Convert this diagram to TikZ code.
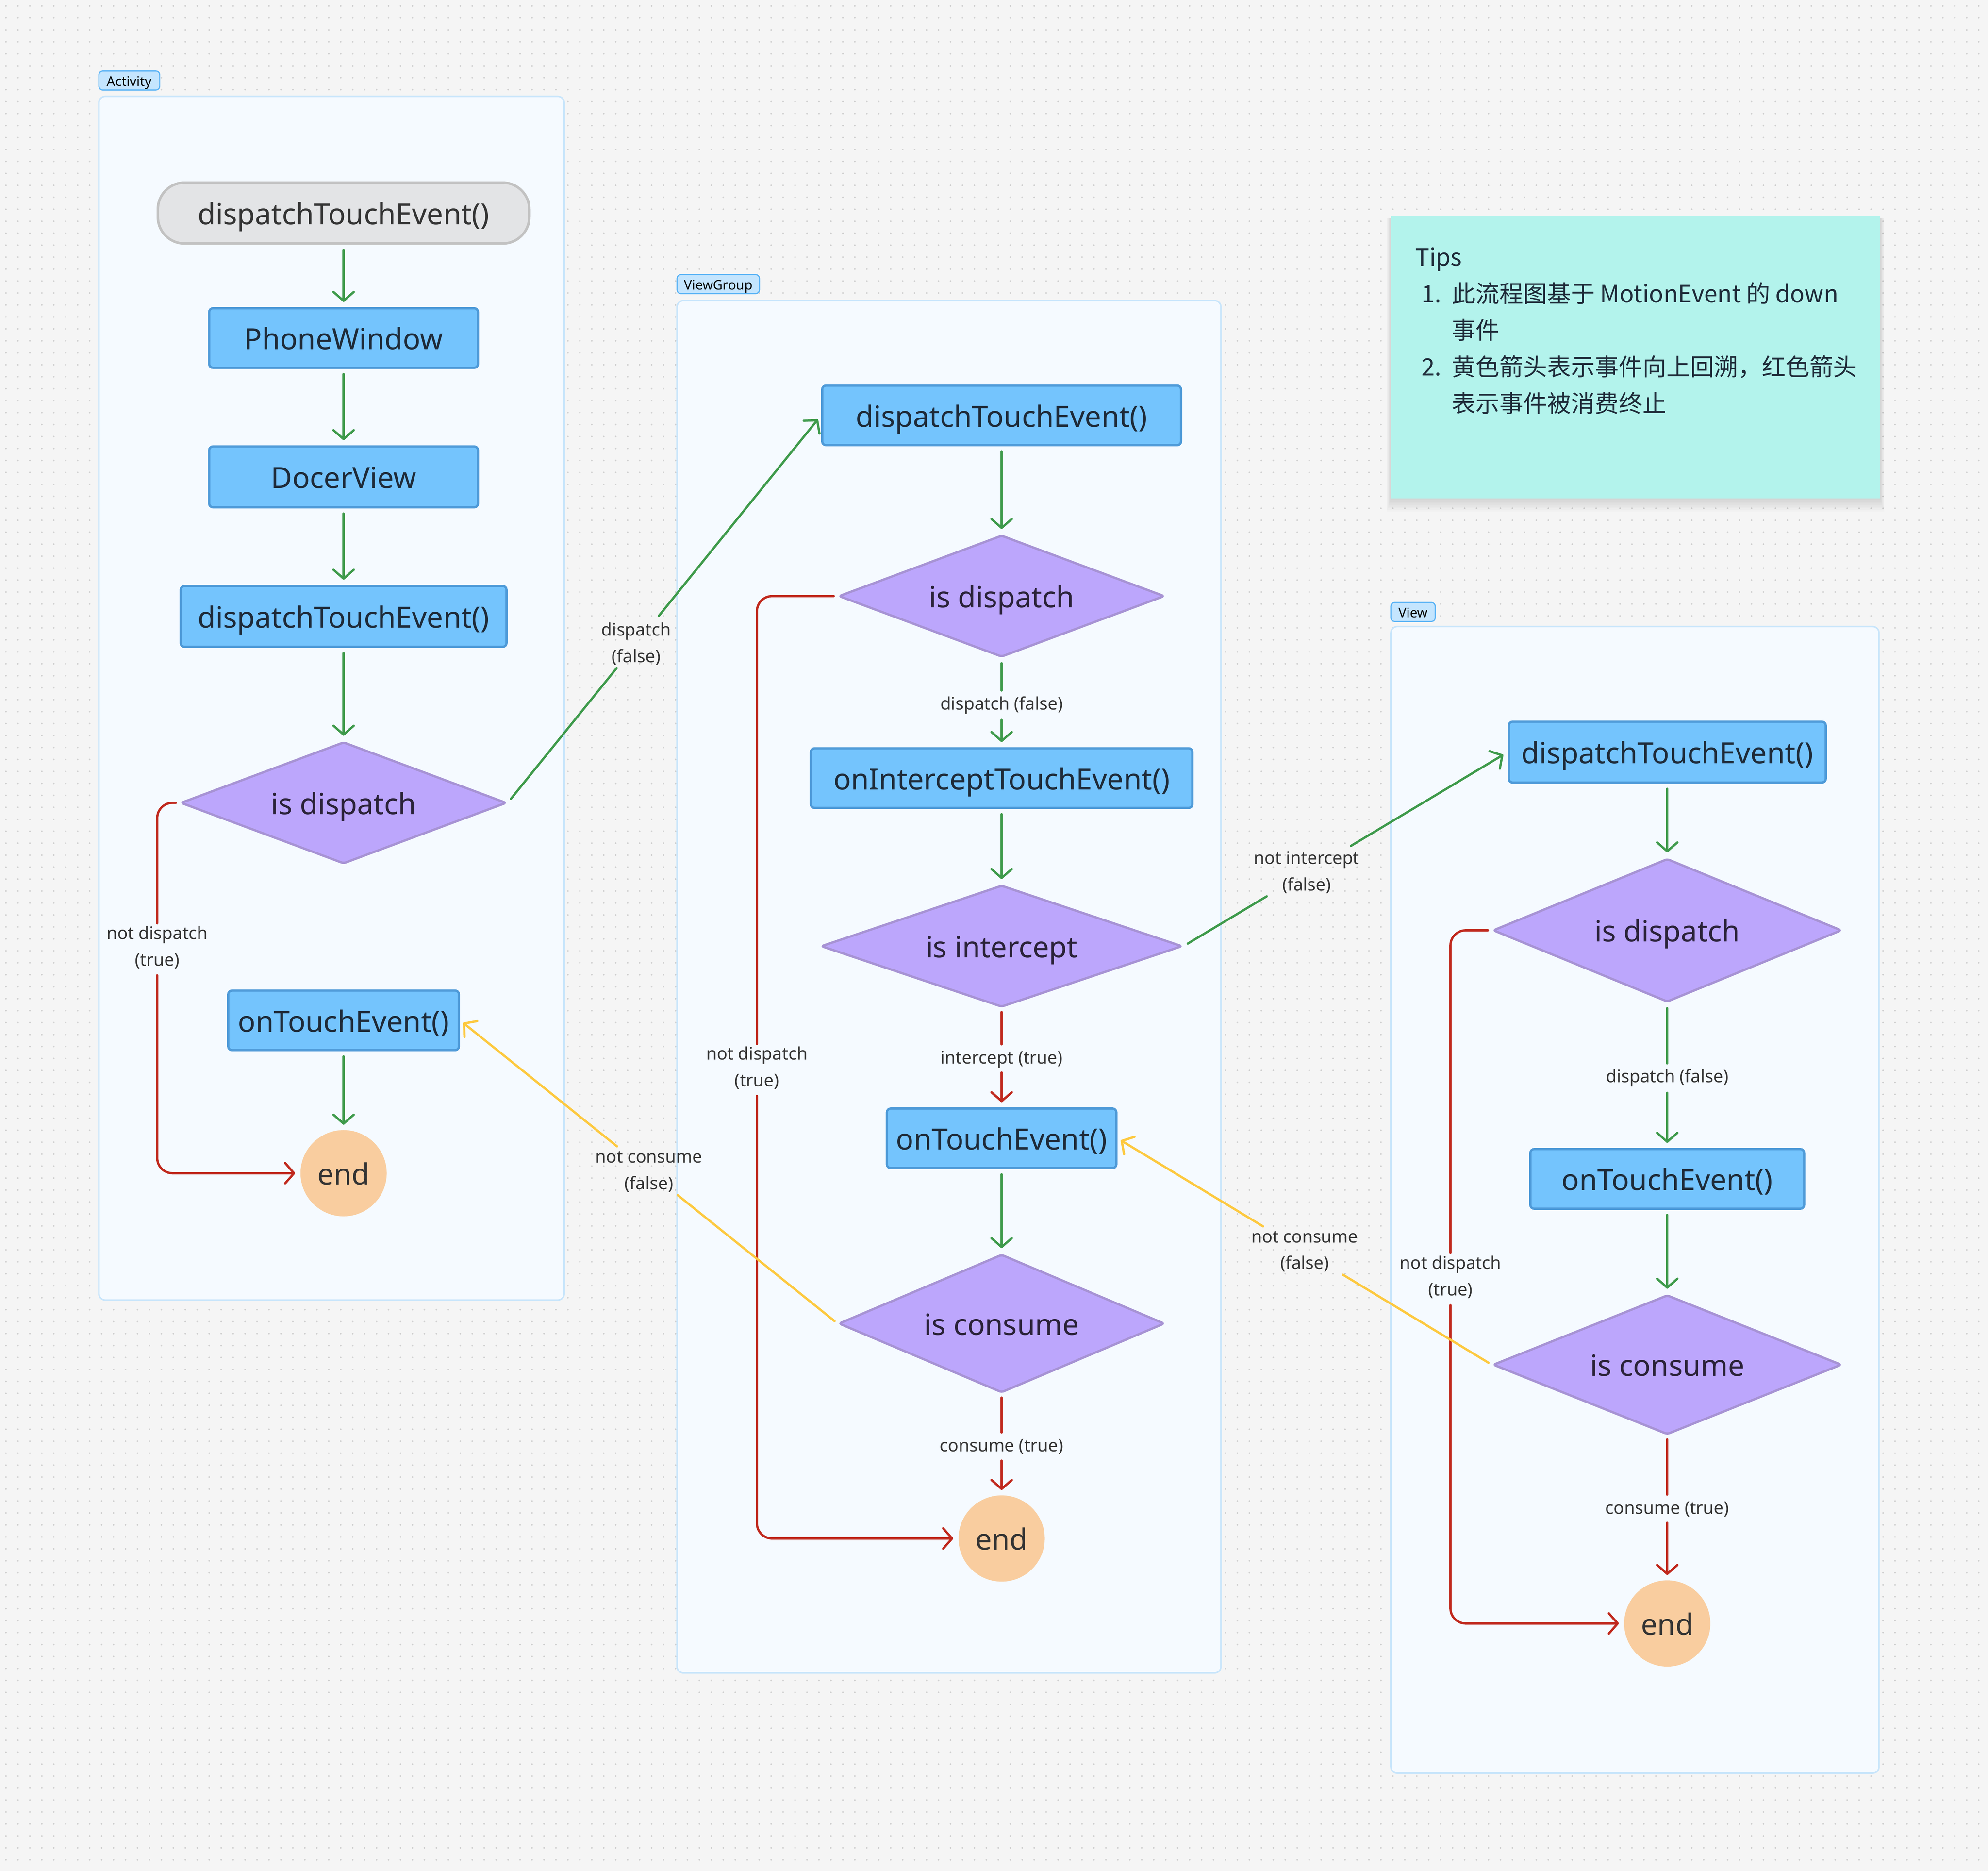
\documentclass[tikz,border=0pt]{standalone}
\usepackage{fontspec}
\setmainfont{Noto Sans}
\newfontfamily\cjkfont{Noto Sans CJK SC}
\usetikzlibrary{shapes.geometric}
\usetikzlibrary{arrows.meta}

\definecolor{canvasbg}{HTML}{F5F5F5}
\definecolor{griddot}{HTML}{D0D0D0}
\definecolor{areafill}{HTML}{F5FAFF}
\definecolor{arealine}{HTML}{C8E5FB}
\definecolor{tagfill}{HTML}{C4E5FE}
\definecolor{tagline}{HTML}{5AB3F5}
\definecolor{boxfill}{HTML}{74C4FD}
\definecolor{boxline}{HTML}{4E9AD8}
\definecolor{startfill}{HTML}{E3E4E6}
\definecolor{startline}{HTML}{C2C2C2}
\definecolor{diafill}{HTML}{BCA6FC}
\definecolor{dialine}{HTML}{A793D4}
\definecolor{endfill}{HTML}{F9CD9F}
\definecolor{okgreen}{HTML}{3E9A4B}
\definecolor{stopred}{HTML}{C0281D}
\definecolor{backyellow}{HTML}{FDC93F}
\definecolor{tipfill}{HTML}{B3F3EC}
\definecolor{inktext}{HTML}{1E2A38}
\definecolor{diatext}{HTML}{2A2238}
\definecolor{lbltext}{HTML}{333333}

\tikzset{
  griddots/.style={draw=griddot, line width=1.3pt, line cap=round, dash pattern=on 0pt off 9.43pt},
  grouparea/.style={draw=arealine, line width=1.2pt, fill=areafill, rounded corners=5pt},
  grouptag/.style={rectangle, rounded corners=3pt, draw=tagline, line width=0.9pt, fill=tagfill, inner sep=0pt, minimum height=15pt, text height=11pt, text depth=2pt, font=\fontsize{10.5}{12}\selectfont, text=black},
  nodetext/.style={text height=23pt, text depth=5pt, font=\fontsize{23}{27}\selectfont},
  startbox/.style={rectangle, rounded corners=21pt, draw=startline, line width=2pt, fill=startfill, inner sep=0pt, text=lbltext, nodetext},
  procbox/.style={rectangle, rounded corners=3pt, draw=boxline, line width=1.8pt, fill=boxfill, inner sep=0pt, minimum height=47pt, text=inktext, nodetext},
  decision/.style={diamond, aspect=2.6, rounded corners=2pt, draw=dialine, line width=1.8pt, fill=diafill, inner sep=0pt, text=diatext, nodetext},
  endnode/.style={circle, fill=endfill, minimum size=68pt, inner sep=0pt, text=lbltext, nodetext},
  flowlbl/.style={align=center, inner xsep=2pt, inner ysep=2pt, text=lbltext, font=\fontsize{13.7}{21}\selectfont},
  flowlblone/.style={flowlbl, text height=13pt, text depth=1.8pt},
  okline/.style={draw=okgreen, line width=1.8pt, line cap=round, shorten <=4pt},
  okflow/.style={okline, -{Straight Barb[length=7pt,width=16pt,round]}, shorten >=4pt},
  stopline/.style={draw=stopred, line width=1.8pt, line cap=round, rounded corners=12pt, shorten <=3pt},
  stopflow/.style={stopline, -{Straight Barb[length=7pt,width=16pt,round]}, shorten >=4pt},
  backline/.style={draw=backyellow, line width=1.8pt, line cap=round, shorten <=3pt},
  backflow/.style={backline, -{Straight Barb[length=7pt,width=16pt,round]}, shorten >=3pt},
}

\begin{document}
\begin{tikzpicture}[x=1pt,y=-1pt]
\useasboundingbox (0,0) rectangle (1568,1475);
\fill[canvasbg] (0,0) rectangle (1568,1475);
\foreach \gy in {4.7,14.13,...,1475} \draw[griddots] (4.7,\gy) -- (1568,\gy);

% group frames
\draw[grouparea] (78,76) rectangle (445,1025);
\node[grouptag, minimum width=48pt] (acttag) at (102,63.5) {Activity};
\draw[grouparea] (534,237) rectangle (963,1319);
\node[grouptag, minimum width=65pt] (vgtag) at (566.5,224) {ViewGroup};
\draw[grouparea] (1097,494) rectangle (1482,1398);
\node[grouptag, minimum width=35pt] (viewtag) at (1114.5,482.5) {View};

% tips note
\foreach \k in {1,...,8}
  \fill[black, opacity=0.014] (1097-0.4*\k,172) rectangle (1483+0.4*\k,393+1.3*\k);
\fill[tipfill] (1097,170) rectangle (1483,393);
\node[anchor=north west, inner sep=0pt, align=left, text=inktext, font=\cjkfont\fontsize{18.8}{28.8}\selectfont] (tipstext) at (1116,195) {Tips\\
\makebox[29pt][l]{\hspace{5pt}1.}此流程图基于 MotionEvent 的 down\\
\hspace*{29pt}事件\\
\makebox[29pt][l]{\hspace{5pt}2.}黄色箭头表示事件向上回溯，红色箭头\\
\hspace*{29pt}表示事件被消费终止};

% Activity
\node[startbox, minimum width=293pt, minimum height=48pt] (astart) at (271,168) {dispatchTouchEvent()};
\node[procbox, minimum width=212pt] (aphone) at (271,266.5) {PhoneWindow};
\node[procbox, minimum width=212pt, minimum height=48pt] (adocer) at (271,376) {DocerView};
\node[procbox, minimum width=257pt, minimum height=48pt] (adte) at (271,486) {dispatchTouchEvent()};
\node[decision, minimum width=257pt, minimum height=96pt] (adisp) at (271,633) {is dispatch};
\node[procbox, minimum width=182pt] (aote) at (271,804.5) {onTouchEvent()};
\node[endnode] (aend) at (271,925) {end};

% ViewGroup
\node[procbox, minimum width=283pt] (vgdte) at (790,327.5) {dispatchTouchEvent()};
\node[decision, minimum width=257pt, minimum height=96pt] (vgdisp) at (790,470) {is dispatch};
\node[procbox, minimum width=301pt] (vgoite) at (790,613.5) {onInterceptTouchEvent()};
\node[decision, minimum width=285pt, minimum height=96pt] (vgint) at (790,746) {is intercept};
\node[procbox, minimum width=181pt] (vgote) at (790,897.5) {onTouchEvent()};
\node[decision, minimum width=257pt, minimum height=109pt] (vgcons) at (790,1043.5) {is consume};
\node[endnode] (vgend) at (790,1213) {end};

% View
\node[procbox, minimum width=250pt, minimum height=48pt] (vdte) at (1315,593) {dispatchTouchEvent()};
\node[decision, minimum width=275pt, minimum height=113pt] (vdisp) at (1315,733.5) {is dispatch};
\node[procbox, minimum width=216pt] (vote) at (1315,929.5) {onTouchEvent()};
\node[decision, minimum width=275pt, minimum height=110pt] (vcons) at (1315,1076) {is consume};
\node[endnode] (vend) at (1315,1280) {end};

% Activity flow
\draw[okflow] (astart) -- (aphone);
\draw[okflow] (aphone) -- (adocer);
\draw[okflow] (adocer) -- (adte);
\draw[okflow] (adte) -- (adisp);
\draw[okflow] (aote) -- (aend);
\node[flowlbl] (andlbl) at (124,747) {not dispatch\\(true)};
\draw[stopline] (adisp.west) -| (andlbl.north);
\draw[stopflow] (andlbl.south) |- (aend.west);
\path (adisp.east) -- node[flowlbl, pos=0.41] (adlbl) {dispatch\\(false)} (vgdte.west);
\draw[okline] (adisp.east) -- (adlbl);
\draw[okflow] (adlbl) -- (vgdte.west);

% ViewGroup flow
\draw[okflow] (vgdte) -- (vgdisp);
\node[flowlblone] (vgdlbl) at (790,554) {dispatch (false)};
\draw[okline] (vgdisp) -- (vgdlbl);
\draw[okflow] (vgdlbl) -- (vgoite);
\draw[okflow] (vgoite) -- (vgint);
\node[flowlblone] (vgilbl) at (790,833) {intercept (true)};
\draw[stopline] (vgint) -- (vgilbl);
\draw[stopflow] (vgilbl) -- (vgote);
\draw[okflow] (vgote) -- (vgcons);
\node[flowlblone] (vgclbl) at (790,1139) {consume (true)};
\draw[stopline] (vgcons) -- (vgclbl);
\draw[stopflow] (vgclbl) -- (vgend);
\node[flowlbl] (vgndlbl) at (597,842) {not dispatch\\(true)};
\draw[stopline] (vgdisp.west) -| (vgndlbl.north);
\draw[stopflow] (vgndlbl.south) |- (vgend.west);
\path (vgcons.west) -- node[flowlbl, pos=0.5] (vgnclbl) {not consume\\(false)} (aote.east);
\draw[backline] (vgcons.west) -- (vgnclbl);
\draw[backflow] (vgnclbl) -- (aote.east);
\path (vgint.east) -- node[flowlbl, pos=0.38] (vgnilbl) {not intercept\\(false)} (vdte.west);
\draw[okline] (vgint.east) -- (vgnilbl);
\draw[okflow] (vgnilbl) -- (vdte.west);

% View flow
\draw[okflow] (vdte) -- (vdisp);
\node[flowlblone] (vdlbl) at (1315,848) {dispatch (false)};
\draw[okline] (vdisp) -- (vdlbl);
\draw[okflow] (vdlbl) -- (vote);
\draw[okflow] (vote) -- (vcons);
\node[flowlblone] (vclbl) at (1315,1188) {consume (true)};
\draw[stopline] (vcons) -- (vclbl);
\draw[stopflow] (vclbl) -- (vend);
\node[flowlbl] (vndlbl) at (1144,1007) {not dispatch\\(true)};
\draw[stopline] (vdisp.west) -| (vndlbl.north);
\draw[stopflow] (vndlbl.south) |- (vend.west);
\path (vcons.west) -- node[flowlbl, pos=0.5] (vnclbl) {not consume\\(false)} (vgote.east);
\draw[backline] (vcons.west) -- (vnclbl);
\draw[backflow] (vnclbl) -- (vgote.east);

\end{tikzpicture}
\end{document}
